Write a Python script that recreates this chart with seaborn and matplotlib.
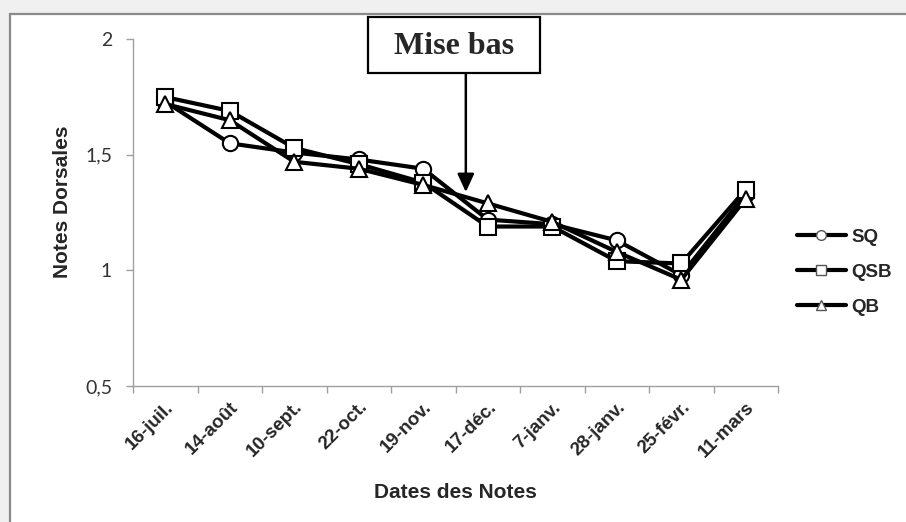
import pandas as pd
import seaborn as sns
import matplotlib.pyplot as plt
from matplotlib.patches import Rectangle
from matplotlib.ticker import FixedLocator

# Données
dates = ['16-juil.', '14-août', '10-sept.', '22-oct.', '19-nov.',
         '17-déc.', '7-janv.', '28-janv.', '25-févr.', '11-mars']
sq = [1.73, 1.55, 1.51, 1.48, 1.44, 1.22, 1.20, 1.13, 0.98, 1.33]
qsb = [1.75, 1.69, 1.53, 1.46, 1.38, 1.19, 1.19, 1.04, 1.03, 1.35]
qb = [1.72, 1.65, 1.47, 1.44, 1.37, 1.29, 1.21, 1.08, 0.96, 1.31]
groupes = ['SQ', 'QSB', 'QB']
yticks = [0.5, 1, 1.5, 2]
ytick_labels = ['0,5', '1', '1,5', '2']

df = pd.DataFrame({
    'date': dates * 3,
    'note': sq + qsb + qb,
    'groupe': [g for g in groupes for _ in dates],
})

sns.set_style('white')

W, H = 906, 522
fig = plt.figure(figsize=(W / 100, H / 100), dpi=100, facecolor='#f0f0f0')

# cadre blanc du graphique
fig.add_artist(Rectangle((10 / W, -0.05), 1.2, 1 - 14 / H + 0.05, transform=fig.transFigure,
                         facecolor='white', edgecolor='#8a8a8a', lw=1.6, zorder=0))

ax = fig.add_axes([133 / W, 1 - 386 / H, 645 / W, (386 - 39.3) / H])
ax.set_facecolor('white')

sns.lineplot(data=df, x='date', y='note', hue='groupe', style='groupe',
             palette={'SQ': 'black', 'QSB': 'black', 'QB': 'black'},
             markers={'SQ': 'o', 'QSB': 's', 'QB': '^'}, dashes=False,
             linewidth=3, markersize=11, markerfacecolor='white',
             markeredgecolor='black', markeredgewidth=1.5, ax=ax)

ax.set_xlim(-0.5, len(dates) - 0.5)
ax.set_ylim(0.5, 2)
ax.set_yticks(yticks)
ax.set_yticklabels(ytick_labels, fontfamily='Lato', fontsize=14, color='#333333')
ax.set_xticks(range(len(dates)))
ax.set_xticklabels(dates, rotation=45, ha='right', rotation_mode='anchor',
                   fontfamily='Liberation Sans', fontweight='bold', fontsize=13.5)
ax.xaxis.set_minor_locator(FixedLocator([i - 0.5 for i in range(len(dates) + 1)]))
ax.tick_params(axis='x', which='major', length=0, pad=9)
ax.tick_params(axis='x', which='minor', length=5, width=1, color='#a0a0a0', bottom=True)
ax.tick_params(axis='y', length=5, width=1, color='#a0a0a0', pad=10, left=True)

for s in ['top', 'right']:
    ax.spines[s].set_visible(False)
for s in ['left', 'bottom']:
    ax.spines[s].set_color('#a0a0a0')
    ax.spines[s].set_linewidth(1)

ax.set_xlabel('Dates des Notes', fontfamily='Liberation Sans', fontweight='bold',
              fontsize=15, va='center')
ax.set_ylabel('Notes Dorsales', fontfamily='Liberation Sans', fontweight='bold',
              fontsize=15, va='center')
ax.xaxis.set_label_coords(0.5, -0.306)
ax.yaxis.set_label_coords(-0.110, 0.53)

# légende
handles, labels = ax.get_legend_handles_labels()
ax.get_legend().remove()
leg = ax.legend(handles, labels, loc='center left', bbox_to_anchor=(797 / W, 1 - 272 / H),
                bbox_transform=fig.transFigure, frameon=False, borderpad=0, borderaxespad=0,
                handlelength=2.6, handletextpad=0.3, labelspacing=0.95,
                prop={'family': 'Liberation Sans', 'weight': 'bold', 'size': 13.5})
for h in leg.legend_handles:
    h.set_markersize(7)
    h.set_markeredgewidth(1)
    h.set_markeredgecolor('#555555')
    h.set_linewidth(3)

# annotation "Mise bas"
fig.add_artist(Rectangle((368 / W, 1 - 73 / H), 172 / W, 56 / H, transform=fig.transFigure,
                         facecolor='white', edgecolor='black', lw=1.6, zorder=5))
fig.text(454 / W, 1 - 46 / H, 'Mise bas', ha='center', va='center', fontfamily='Liberation Serif',
         fontweight='bold', fontsize=23, zorder=6)
ax.annotate('', xy=(4.66, 1.339), xytext=(4.66, 1.854), xycoords='data',
            arrowprops=dict(arrowstyle='-|>,head_length=0.5,head_width=0.23', color='black',
                            lw=1.8, mutation_scale=22, shrinkA=0, shrinkB=0),
            annotation_clip=False)

fig.savefig('out.png', dpi=100, facecolor=fig.get_facecolor())
